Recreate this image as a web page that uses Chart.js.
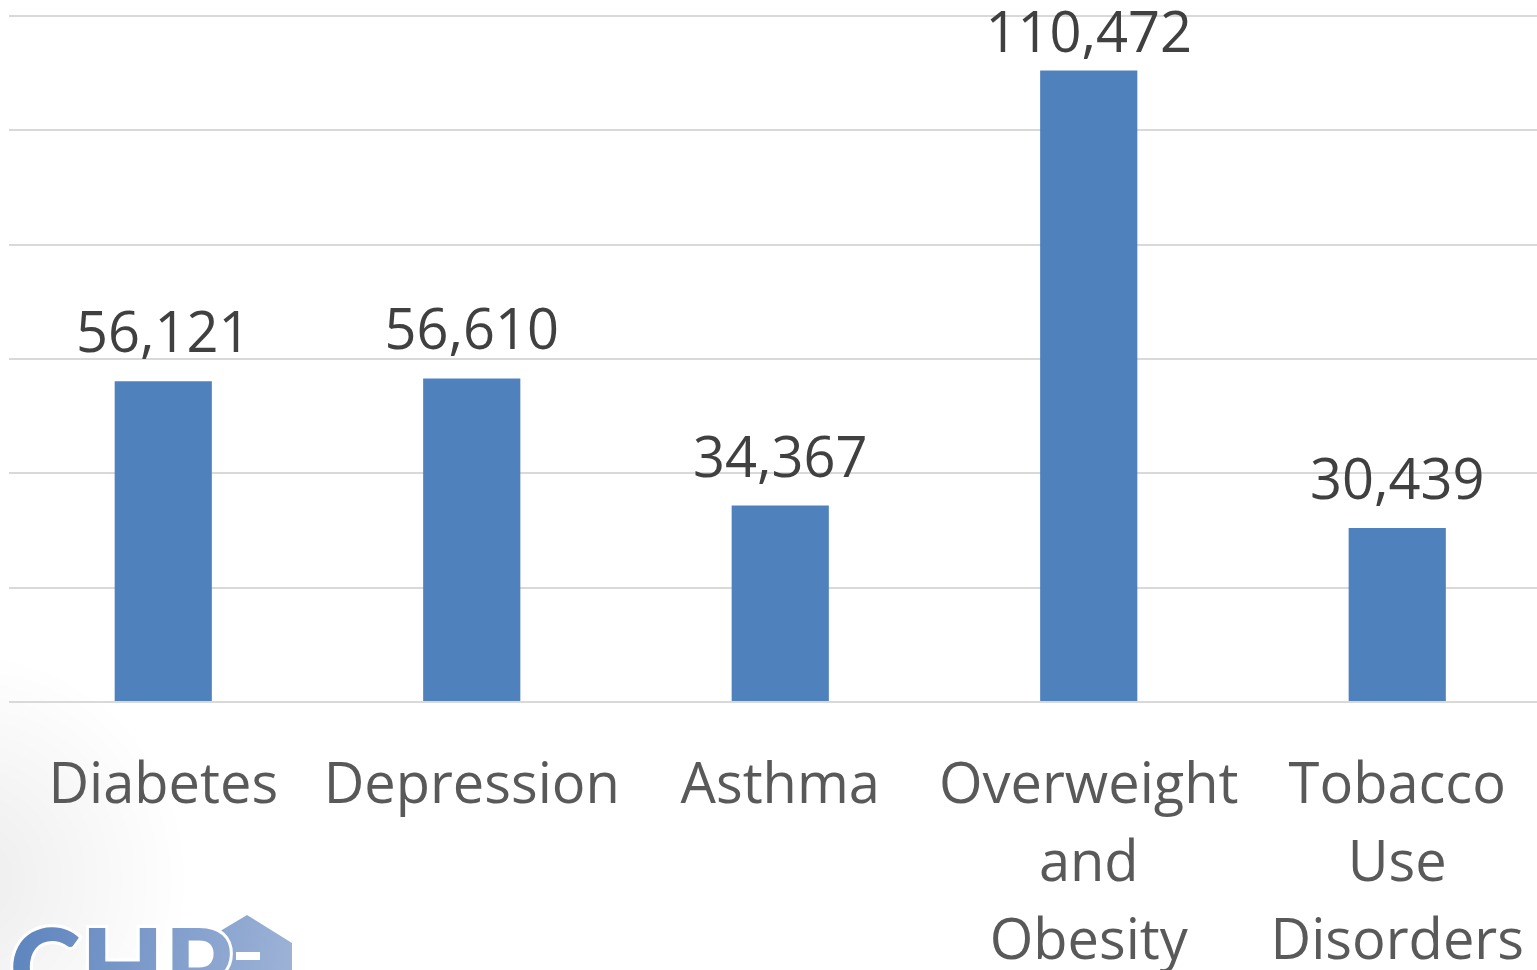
<!DOCTYPE html>
<html>
<head>
<meta charset="utf-8">
<script src="https://cdn.jsdelivr.net/npm/chart.js@4/dist/chart.umd.min.js"></script>
<style>
  html, body { margin: 0; padding: 0; background: #ffffff; overflow: hidden; }
  #wrap { position: relative; width: 1563px; height: 970px; }
</style>
</head>
<body>
<div id="wrap"><canvas id="c"></canvas></div>
<script>
const categories = [["Diabetes"], ["Depression"], ["Asthma"], ["Overweight", "and", "Obesity"], ["Tobacco", "Use", "Disorders"]];
const values = [56121, 56610, 34367, 110472, 30439];
const yMin = 0;
const yMax = 120000;
const yStep = 20000;

const FONT = "'Open Sans', 'Noto Sans', sans-serif";

const valueLabels = {
  id: 'valueLabels',
  afterDatasetsDraw(chart) {
    const ctx = chart.ctx;
    const meta = chart.getDatasetMeta(0);
    ctx.save();
    ctx.font = "56px " + FONT;
    ctx.fillStyle = '#404040';
    ctx.textAlign = 'center';
    ctx.textBaseline = 'alphabetic';
    meta.data.forEach((bar, i) => {
      const txt = values[i].toLocaleString('en-US');
      let y = bar.y - 29;
      const minBase = 52;
      if (y < minBase) y = minBase;
      ctx.fillText(txt, bar.x, y);
    });
    ctx.restore();
  }
};

const logo = {
  id: 'logo',
  beforeDraw(chart) {
    const ctx = chart.ctx;
    ctx.save();
    const g = ctx.createRadialGradient(-40, 880, 10, -40, 880, 230);
    g.addColorStop(0, 'rgba(0,0,0,0.07)');
    g.addColorStop(1, 'rgba(0,0,0,0)');
    ctx.fillStyle = g;
    ctx.fillRect(0, 640, 260, 330);
    ctx.restore();
  },
  afterDraw(chart) {
    const ctx = chart.ctx;
    ctx.save();
    const g = ctx.createLinearGradient(0, 915, 292, 970);
    g.addColorStop(0, '#5a82bd');
    g.addColorStop(1, '#9db2d6');
    ctx.fillStyle = g;
    // house
    ctx.beginPath();
    ctx.moveTo(217, 933);
    ctx.lineTo(247, 915);
    ctx.lineTo(292, 943);
    ctx.lineTo(292, 970);
    ctx.lineTo(225, 970);
    ctx.lineTo(225, 940);
    ctx.closePath();
    ctx.fill();
    ctx.font = "900 108px Lato, " + FONT;
    ctx.textAlign = 'right';
    ctx.textBaseline = 'alphabetic';
    ctx.lineWidth = 6;
    ctx.strokeStyle = '#ffffff';
    ctx.strokeText("CHP", 232, 1007);
    ctx.fillText("CHP", 232, 1007);
    ctx.fillStyle = '#ffffff';
    ctx.fillRect(236, 952, 24, 8);
    ctx.restore();
  }
};

new Chart(document.getElementById('c'), {
  type: 'bar',
  data: {
    labels: categories,
    datasets: [{
      data: values,
      backgroundColor: '#4f81bd',
      borderWidth: 0,
      categoryPercentage: 1,
      barPercentage: 0.315
    }]
  },
  options: {
    responsive: true,
    maintainAspectRatio: false,
    animation: false,
    layout: { padding: { left: 9, right: 11, top: 16, bottom: 0 } },
    plugins: { legend: { display: false }, tooltip: { enabled: false } },
    scales: {
      x: {
        grid: { display: false },
        border: { display: false },
        ticks: {
          autoSkip: false,
          maxRotation: 0,
          minRotation: 0,
          padding: 38,
          color: '#595959',
          font: { family: FONT, size: 56, lineHeight: 78 / 56 }
        },
        afterFit(scale) { scale.height = 268; }
      },
      y: {
        min: yMin,
        max: yMax,
        ticks: { display: false, stepSize: yStep },
        grid: { color: '#d9d9d9', lineWidth: 2, drawTicks: false },
        border: { display: false },
        afterFit(scale) { scale.width = 0; }
      }
    }
  },
  plugins: [valueLabels, logo]
});
</script>
</body>
</html>
